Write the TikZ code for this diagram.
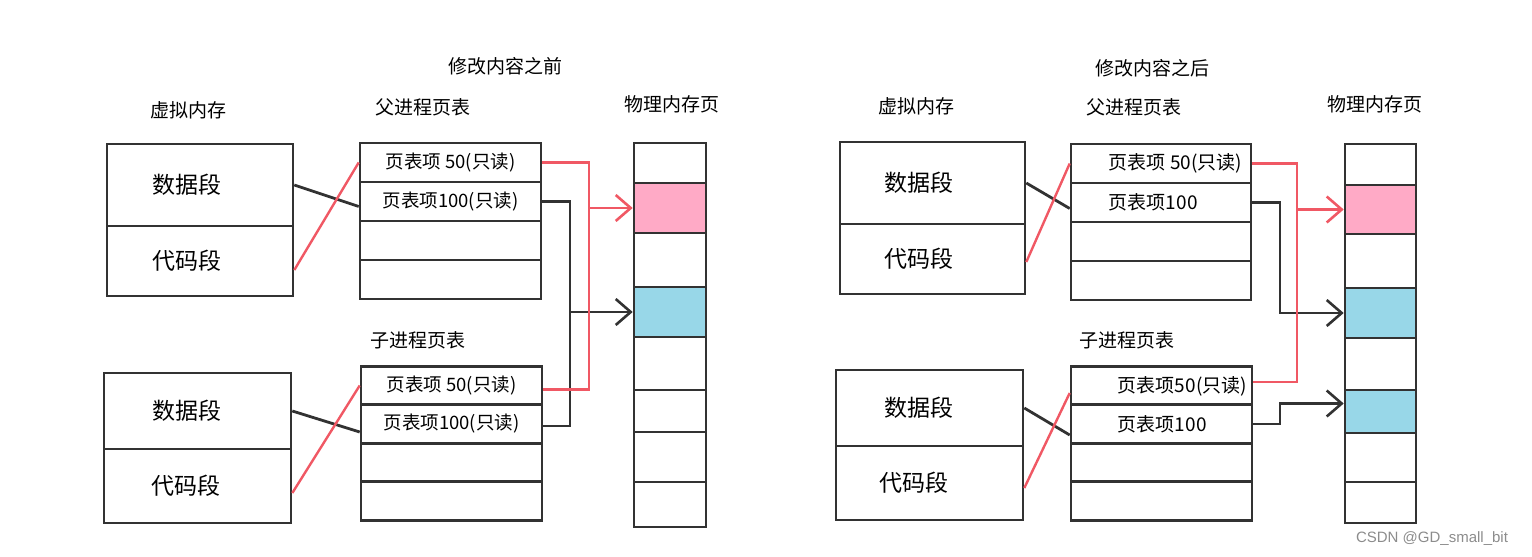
\documentclass[tikz,border=0pt]{standalone}
\usepackage{fontspec}
\setmainfont{Noto Sans CJK SC}
\newfontfamily\wmfont{Liberation Sans}
\usepackage{tikz}
\usetikzlibrary{arrows.meta}
\definecolor{edgegray}{RGB}{50,50,50}
\definecolor{redline}{RGB}{240,88,100}
\definecolor{pinkcell}{RGB}{255,170,198}
\definecolor{bluecell}{RGB}{152,215,232}
\begin{document}
\begin{tikzpicture}[x=1pt, y=-1pt, inner sep=0pt,
		seg_style/.style={rectangle,draw=edgegray,line width=2.6pt,fill=white,font=\fontsize{23}{25}\selectfont},
		row_style/.style={rectangle,draw=edgegray,line width=2.6pt,fill=white,font=\fontsize{18.5}{20}\selectfont},
		cell_style/.style={rectangle,draw=edgegray,line width=2.6pt,fill=white,minimum width=72},
		label_style/.style={font=\fontsize{19}{21}\selectfont},
		entry_style/.style={anchor=west,font=\fontsize{19}{21}\selectfont},
		black_edge/.style={draw=edgegray,line width=2.8pt},
		red_edge/.style={draw=redline,line width=2.4pt},
		arrow_style/.style={-{Straight Barb[length=15pt,width=26pt,line width=2.6pt]}}]
		\useasboundingbox (0,0) rectangle (1532,557);
		% titles and headings
		\node[label_style] (ltitle) at (505,66) {修改内容之前};
		\node[label_style] (lvlab) at (188,110) {虚拟内存};
		\node[label_style] (lplab) at (423,107) {父进程页表};
		\node[label_style] (lmlab) at (672,104) {物理内存页};
		\node[label_style] (lclab) at (418,340) {子进程页表};
		\node[label_style] (rtitle) at (1152,68) {修改内容之后};
		\node[label_style] (rvlab) at (916,106) {虚拟内存};
		\node[label_style] (rplab) at (1134,107) {父进程页表};
		\node[label_style] (rmlab) at (1375,104) {物理内存页};
		\node[label_style] (rclab) at (1127,340) {子进程页表};
		% left: virtual memory
		\node[seg_style, minimum width=186, minimum height=82] (lvd1) at (200,185) {数据段\hspace*{26pt}};
		\node[seg_style, minimum width=186, minimum height=70] (lvc1) at (200,261) {代码段\hspace*{26pt}};
		\node[seg_style, minimum width=187, minimum height=76] (lvd2) at (197.5,411) {数据段\hspace*{22pt}};
		\node[seg_style, minimum width=187, minimum height=74] (lvc2) at (197.5,486) {代码段\hspace*{24pt}};
		% left: page tables
		\node[row_style, minimum width=181, minimum height=39] (lpp1) at (450.5,162.5) {页表项 50(只读)};
		\node[row_style, minimum width=181, minimum height=39] (lpp2) at (450.5,201.5) {页表项100(只读)};
		\node[row_style, minimum width=181, minimum height=39] (lpp3) at (450.5,240.5) {};
		\node[row_style, minimum width=181, minimum height=39] (lpp4) at (450.5,279.5) {};
		\node[row_style, minimum width=181, minimum height=38.5] (lcp1) at (451.5,385.5) {页表项 50(只读)};
		\node[row_style, minimum width=181, minimum height=38.5] (lcp2) at (451.5,424) {页表项100(只读)};
		\node[row_style, minimum width=181, minimum height=38.5] (lcp3) at (451.5,462.5) {};
		\node[row_style, minimum width=181, minimum height=38.5] (lcp4) at (451.5,501) {};
		% left: physical pages
		\node[cell_style, minimum height=40] (lm1) at (670,163) {};
		\node[cell_style, minimum height=50, fill=pinkcell] (lm2) at (670,208) {};
		\node[cell_style, minimum height=54] (lm3) at (670,260) {};
		\node[cell_style, minimum height=50, fill=bluecell] (lm4) at (670,312) {};
		\node[cell_style, minimum height=53] (lm5) at (670,363.5) {};
		\node[cell_style, minimum height=42] (lm6) at (670,411) {};
		\node[cell_style, minimum height=50] (lm7) at (670,457) {};
		\node[cell_style, minimum height=45] (lm8) at (670,504.5) {};
		% right: virtual memory
		\node[seg_style, minimum width=185, minimum height=82] (rvd1) at (932.5,183) {数据段\hspace*{28pt}};
		\node[seg_style, minimum width=185, minimum height=70] (rvc1) at (932.5,259) {代码段\hspace*{28pt}};
		\node[seg_style, minimum width=187, minimum height=76] (rvd2) at (929.5,408) {数据段\hspace*{22pt}};
		\node[seg_style, minimum width=187, minimum height=74] (rvc2) at (929.5,483) {代码段\hspace*{32pt}};
		% right: page tables
		\node[row_style, minimum width=180, minimum height=39] (rpp1) at (1161,163.5) {};
		\node[row_style, minimum width=180, minimum height=39] (rpp2) at (1161,202.5) {};
		\node[row_style, minimum width=180, minimum height=39] (rpp3) at (1161,241.5) {};
		\node[row_style, minimum width=180, minimum height=39] (rpp4) at (1161,280.5) {};
		\node[row_style, minimum width=181, minimum height=38.5] (rcp1) at (1161.5,386) {};
		\node[row_style, minimum width=181, minimum height=38.5] (rcp2) at (1161.5,424) {};
		\node[row_style, minimum width=181, minimum height=38.5] (rcp3) at (1161.5,462.5) {};
		\node[row_style, minimum width=181, minimum height=38.5] (rcp4) at (1161.5,501) {};
		\node[entry_style] (rpt1) at ([xshift=39]rpp1.west) {页表项 50(只读)};
		\node[entry_style] (rpt2) at ([xshift=39]rpp2.west) {页表项100};
		\node[entry_style] (rct1) at ([xshift=48]rcp1.west) {页表项50(只读)};
		\node[entry_style] (rct2) at ([xshift=48]rcp2.west) {页表项100};
		% right: physical pages
		\node[cell_style, minimum width=71, minimum height=41] (rm1) at (1380.5,164.5) {};
		\node[cell_style, minimum width=71, minimum height=49, fill=pinkcell] (rm2) at (1380.5,209.5) {};
		\node[cell_style, minimum width=71, minimum height=54] (rm3) at (1380.5,261) {};
		\node[cell_style, minimum width=71, minimum height=50, fill=bluecell] (rm4) at (1380.5,313) {};
		\node[cell_style, minimum width=71, minimum height=52] (rm5) at (1380.5,364) {};
		\node[cell_style, minimum width=71, minimum height=43, fill=bluecell] (rm6) at (1380.5,411.5) {};
		\node[cell_style, minimum width=71, minimum height=49] (rm7) at (1380.5,457.5) {};
		\node[cell_style, minimum width=71, minimum height=41] (rm8) at (1380.5,502.5) {};
		% left: mappings
		\draw[black_edge] (lvd1.east) -- ([yshift=-5]lpp2.west);
		\draw[red_edge] ([yshift=-9]lvc1.east) -- (lpp1.west);
		\draw[black_edge] (lvd2.east) -- ([yshift=-8]lcp2.west);
		\draw[red_edge] ([yshift=-7]lvc2.east) -- (lcp1.west);
		\coordinate (lbj) at (570,0);
		\coordinate (lrj) at (589,0);
		\draw[black_edge] (lpp2.east) -- (lpp2.east -| lbj) |- ([yshift=-2]lcp2.east);
		\draw[black_edge, arrow_style] (lbj |- lm4.west) -- (lm4.west);
		\draw[red_edge] (lpp1.east) -- (lpp1.east -| lrj) |- ([yshift=-4]lcp1.east);
		\draw[red_edge, arrow_style] (lrj |- lm2.west) -- (lm2.west);
		% right: mappings
		\draw[black_edge] (rvd1.east) -- ([yshift=-6]rpp2.west);
		\draw[red_edge] ([yshift=-3]rvc1.east) -- (rpp1.west);
		\draw[black_edge] (rvd2.east) -- ([yshift=-11]rcp2.west);
		\draw[red_edge] ([yshift=-5]rvc2.east) -- ([yshift=-7]rcp1.west);
		\coordinate (rbj) at (1280,0);
		\coordinate (rrj) at (1297,0);
		\draw[black_edge, arrow_style] (rpp2.east) -- (rpp2.east -| rbj) |- (rm4.west);
		\draw[black_edge, arrow_style] (rcp2.east) -- (rcp2.east -| rbj) |- ([yshift=8]rm6.west);
		\draw[red_edge] (rpp1.east) -- (rpp1.east -| rrj) |- ([yshift=4]rcp1.east);
		\draw[red_edge, arrow_style] (rrj |- rm2.west) -- (rm2.west);
		% watermark
		\node[font=\wmfont\fontsize{15}{17}\selectfont, text=black!45] (wm) at (1432,539) {CSDN @GD\_small\_bit};
\end{tikzpicture}
\end{document}
